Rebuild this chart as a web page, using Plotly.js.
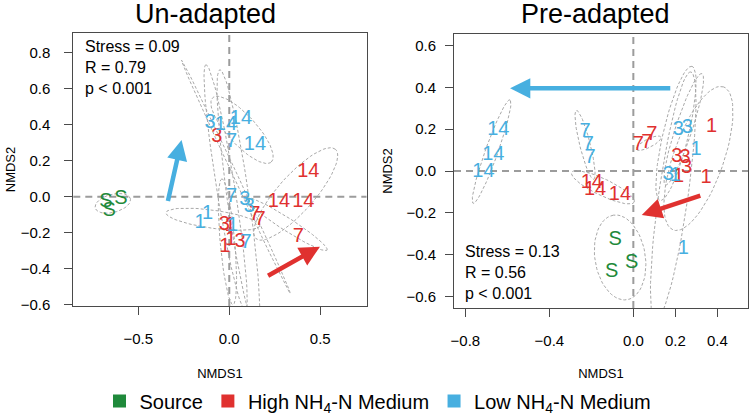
<!DOCTYPE html>
<html>
<head>
<meta charset="utf-8">
<script src="https://cdn.plot.ly/plotly-3.0.1.min.js"></script>
<style>html,body{margin:0;padding:0;background:#fff;}#chart{width:749px;height:418px;}</style>
</head>
<body>
<div id="chart"></div>
<script>
// ---------- Data ----------
const groupNames = ['Source', 'High NH<sub>4</sub>-N Medium', 'Low NH<sub>4</sub>-N Medium'];
const dayLabels = ['1','1','1','3','3','3','7','7','7','14','14','14'];
const sourceLabels = ['S','S','S'];

// Un-adapted panel
const uaSourceX = [-0.678, -0.596, -0.660];
const uaSourceY = [-0.028, -0.013, -0.080];
const uaHighX = [0.005, -0.024, 0.008, -0.069, -0.027, 0.059, 0.141, 0.169, 0.379, 0.434, 0.273, 0.407];
const uaHighY = [-0.160, -0.277, -0.240, 0.332, -0.157, -0.249, -0.102, -0.130, -0.222, 0.139, -0.028, -0.028];
const uaLowX = [-0.161, -0.119, 0.020, -0.106, 0.086, 0.110, 0.013, 0.013, 0.092, -0.018, 0.064, 0.141];
const uaLowY = [-0.144, -0.098, -0.165, 0.407, -0.018, -0.055, 0.305, 0.000, -0.258, 0.397, 0.429, 0.286];
const uaStats = ['Stress = 0.09', 'R = 0.79', 'p < 0.001'];

// Pre-adapted panel
const paSourceX = [-0.087, -0.103, -0.008];
const paSourceY = [-0.330, -0.482, -0.442];
const paHighX = [0.373, 0.346, 0.215, 0.207, 0.246, 0.254, 0.024, 0.064, 0.088, -0.198, -0.182, -0.064];
const paHighY = [0.212, -0.035, -0.030, 0.068, 0.061, 0.013, 0.124, 0.133, 0.172, -0.059, -0.091, -0.115];
const paLowX = [0.299, 0.238, 0.200, 0.214, 0.257, 0.167, -0.230, -0.214, -0.206, -0.643, -0.667, -0.714];
const paLowY = [0.100, -0.375, -0.025, 0.196, 0.204, -0.019, 0.188, 0.124, 0.061, 0.196, 0.077, -0.003];
const paStats = ['Stress = 0.13', 'R = 0.56', 'p < 0.001'];

// Group dispersion ellipses (centre, semi-axes, angle in degrees)
const uaEllCx = [-0.640, 0.036, -0.020, 0.050, 0.070, 0.365, -0.090, 0.315, -0.010];
const uaEllCy = [-0.037, 0.111, 0.050, -0.020, 0.370, 0.015, -0.125, -0.152, -0.250];
const uaEllA = [0.100, 0.711, 0.690, 0.730, 0.240, 0.330, 0.260, 0.265, 0.350];
const uaEllB = [0.050, 0.012, 0.050, 0.060, 0.080, 0.100, 0.050, 0.035, 0.040];
const uaEllAng = [15, -65.2, 99, -82, -48, 48.6, -8, -33, 95];

const paEllCx = [-0.675, -0.230, -0.145, 0.073, -0.063, 0.310, 0.190, 0.203, 0.240];
const paEllCy = [0.093, 0.125, -0.078, 0.133, -0.414, 0.060, -0.120, 0.180, 0.200];
const paEllA = [0.263, 0.170, 0.165, 0.065, 0.205, 0.363, 0.600, 0.330, 0.280];
const paEllB = [0.030, 0.025, 0.040, 0.020, 0.120, 0.120, 0.070, 0.060, 0.040];
const paEllAng = [70.5, -76, -25.6, 27, 99, 70.8, 82, 76.7, 72];

// Trend arrows: tail (x0,y0) -> head (x1,y1)
const uaArrowX0 = [-0.339, 0.205], uaArrowY0 = [-0.033, -0.443];
const uaArrowX1 = [-0.262, 0.498], uaArrowY1 = [0.314, -0.277];
const paArrowX0 = [0.183, 0.326], paArrowY0 = [0.396, -0.115];
const paArrowX1 = [-0.587, 0.040], paArrowY1 = [0.396, -0.211];

// ---------- Styling ----------
const GREEN = '#1f8a3b', RED = '#e0312f', BLUE = '#47afe0';
const FONT = 'Liberation Sans, Arial, Helvetica, sans-serif';
const arrowColors = [BLUE, RED];

// page geometry (pixels) -> plot-area fractions
const M = {l: 73, r: 1, t: 33, b: 110};
const PW = 749 - M.l - M.r, PH = 418 - M.t - M.b;
const fx = px => (px - M.l) / PW;
const fy = py => (418 - M.b - py) / PH;

function ellipseTraces(cx, cy, A, B, ang, xa, ya) {
  const out = [];
  for (let i = 0; i < cx.length; i++) {
    const th = ang[i] * Math.PI / 180;
    const xs = [], ys = [];
    for (let k = 0; k <= 72; k++) {
      const t = 2 * Math.PI * k / 72;
      xs.push(cx[i] + A[i] * Math.cos(t) * Math.cos(th) - B[i] * Math.sin(t) * Math.sin(th));
      ys.push(cy[i] + A[i] * Math.cos(t) * Math.sin(th) + B[i] * Math.sin(t) * Math.cos(th));
    }
    out.push({x: xs, y: ys, xaxis: xa, yaxis: ya, mode: 'lines', type: 'scatter',
      line: {color: '#a8a8a8', width: 1, dash: '3px,2px'}, hoverinfo: 'skip', showlegend: false});
  }
  return out;
}

function textTrace(x, y, labels, color, xa, ya) {
  return {x: x, y: y, text: labels, mode: 'text', type: 'scatter', xaxis: xa, yaxis: ya,
    textfont: {family: FONT, size: 20, color: color}, textposition: 'middle center',
    hoverinfo: 'skip', showlegend: false, cliponaxis: false};
}

const traces = [].concat(
  ellipseTraces(uaEllCx, uaEllCy, uaEllA, uaEllB, uaEllAng, 'x', 'y'),
  ellipseTraces(paEllCx, paEllCy, paEllA, paEllB, paEllAng, 'x2', 'y2'),
  [
    textTrace(uaSourceX, uaSourceY, sourceLabels, GREEN, 'x', 'y'),
    textTrace(uaHighX, uaHighY, dayLabels, RED, 'x', 'y'),
    textTrace(uaLowX, uaLowY, dayLabels, BLUE, 'x', 'y'),
    textTrace(paSourceX, paSourceY, sourceLabels, GREEN, 'x2', 'y2'),
    textTrace(paHighX, paHighY, dayLabels, RED, 'x2', 'y2'),
    textTrace(paLowX, paLowY, dayLabels, BLUE, 'x2', 'y2')
  ]
);
// Legend entries
[GREEN, RED, BLUE].forEach((c, i) => {
  traces.push({x: [null], y: [null], type: 'scatter', mode: 'markers', name: groupNames[i],
    marker: {symbol: 'square', size: 13, color: c}, xaxis: 'x', yaxis: 'y', hoverinfo: 'skip'});
});

const annotations = [];
function addArrows(X0, Y0, X1, Y1, xr, yr) {
  for (let i = 0; i < X0.length; i++) {
    annotations.push({x: X1[i], y: Y1[i], ax: X0[i], ay: Y0[i], xref: xr, yref: yr, axref: xr, ayref: yr,
      text: '', showarrow: true, arrowhead: 2, arrowsize: 0.9, arrowwidth: 4.5, arrowcolor: arrowColors[i], standoff: 0});
  }
}
addArrows(uaArrowX0, uaArrowY0, uaArrowX1, uaArrowY1, 'x', 'y');
addArrows(paArrowX0, paArrowY0, paArrowX1, paArrowY1, 'x2', 'y2');

annotations.push({text: uaStats.join('<br>'), xref: 'paper', yref: 'paper', x: fx(83), y: fy(36),
  xanchor: 'left', yanchor: 'top', align: 'left', showarrow: false, font: {family: FONT, size: 16, color: '#000'}});
annotations.push({text: paStats.join('<br>'), xref: 'paper', yref: 'paper', x: fx(463), y: fy(241),
  xanchor: 'left', yanchor: 'top', align: 'left', showarrow: false, font: {family: FONT, size: 16, color: '#000'}});
annotations.push({text: 'Un-adapted', xref: 'paper', yref: 'paper', x: fx(205), y: fy(14),
  xanchor: 'center', yanchor: 'middle', showarrow: false, font: {family: FONT, size: 27, color: '#000'}});
annotations.push({text: 'Pre-adapted', xref: 'paper', yref: 'paper', x: fx(595), y: fy(14),
  xanchor: 'center', yanchor: 'middle', showarrow: false, font: {family: FONT, size: 27, color: '#000'}});

function zeroShapes(xr, yr) {
  const base = {type: 'line', layer: 'below', line: {color: '#9c9c9c', width: 2, dash: '7px,5px'}};
  return [
    Object.assign({}, base, {xref: xr, yref: yr + ' domain', x0: 0, x1: 0, y0: 0, y1: 1}),
    Object.assign({}, base, {xref: xr + ' domain', yref: yr, x0: 0, x1: 1, y0: 0, y1: 0})
  ];
}

const axBase = {showgrid: false, zeroline: false, showline: true, mirror: true, linecolor: '#4a4a4a', linewidth: 1,
  ticks: 'outside', ticklen: 8, tickcolor: '#4a4a4a', tickfont: {family: FONT, size: 15, color: '#000'},
  tickformat: '.1f', fixedrange: true};
const titleFont = {family: FONT, size: 13, color: '#000'};

const layout = {
  width: 749, height: 418,
  margin: Object.assign({autoexpand: false}, M),
  paper_bgcolor: '#fff', plot_bgcolor: '#fff',
  font: {family: FONT},
  showlegend: true,
  legend: {orientation: 'h', xref: 'container', yref: 'container', x: 378 / 749, xanchor: 'center',
    y: 1 - 401 / 418, yanchor: 'middle',
    font: {family: FONT, size: 20, color: '#000'}, itemclick: false, bgcolor: 'rgba(0,0,0,0)'},
  xaxis: Object.assign({}, axBase, {domain: [fx(73.3), fx(366.5)], range: [-0.857, 0.754],
    tickvals: [-0.5, 0, 0.5], ticklabelstandoff: 11, anchor: 'y',
    title: {text: 'NMDS1', font: titleFont, standoff: 22}}),
  yaxis: Object.assign({}, axBase, {domain: [fy(306), fy(33)], range: [-0.606, 0.907],
    tickvals: [-0.6, -0.4, -0.2, 0, 0.2, 0.4, 0.6, 0.8], ticklabelstandoff: 11, anchor: 'x',
    title: {text: 'NMDS2', font: titleFont, standoff: 2}}),
  xaxis2: Object.assign({}, axBase, {domain: [fx(454), fx(748)], range: [-0.854, 0.546],
    tickvals: [-0.8, -0.4, 0, 0.2, 0.4], ticklabelstandoff: 11, anchor: 'y2',
    title: {text: 'NMDS1', font: titleFont, standoff: 22}}),
  yaxis2: Object.assign({}, axBase, {domain: [fy(308), fy(34)], range: [-0.656, 0.656],
    tickvals: [-0.6, -0.4, -0.2, 0, 0.2, 0.4, 0.6], ticklabelstandoff: 6, anchor: 'x2',
    title: {text: 'NMDS2', font: titleFont, standoff: 10}}),
  shapes: zeroShapes('x', 'y').concat(zeroShapes('x2', 'y2')),
  annotations: annotations
};

Plotly.newPlot('chart', traces, layout, {staticPlot: true, displayModeBar: false});
</script>
</body>
</html>
